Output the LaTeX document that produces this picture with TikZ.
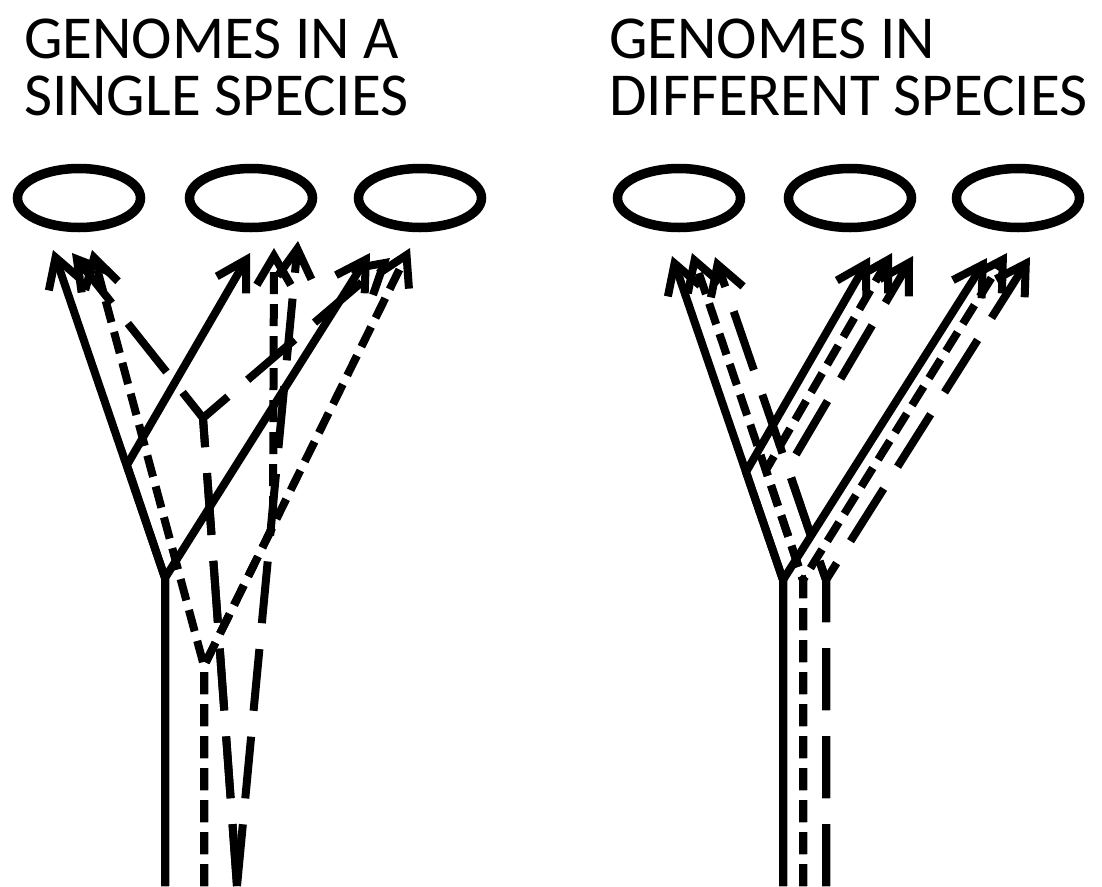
\documentclass[tikz,border=0pt]{standalone}
\usepackage{fontspec}
\setmainfont{Carlito}
\usetikzlibrary{arrows.meta,shapes.geometric}

\begin{document}
\begin{tikzpicture}[x=1pt, y=-1pt,
  genome/.style={draw, ellipse, line width=9.5pt, minimum width=123pt, minimum height=59pt, inner sep=0pt},
  gene/.style={line width=8pt, -{Straight Barb[length=29pt, width=34pt]}},
  dotline/.style={dash pattern=on 22pt off 10pt},
  dshline/.style={dash pattern=on 62pt off 26pt},
  heading/.style={anchor=north west, align=left, inner sep=0pt, font=\fontsize{61}{57}\selectfont}]
  \useasboundingbox (0,0) rectangle (1102,886);
  \node[heading] (inTitle) at (24,19) {GENOMES IN A\\SINGLE SPECIES};
  \node[heading] (btwTitle) at (609,19) {GENOMES IN\\DIFFERENT SPECIES};
  \foreach \n/\x in {inA/79, inB/251, inC/420, btwA/679, btwB/850, btwC/1018}
    \node[genome] (\n) at (\x, 198) {};
  \foreach \n/\x/\y in {inSol-0/165/886, inSol-1/165/578, inSol-2/127/465, inSol-A/53/250, inSol-B/250/253, inSol-C/370/253,
      inDot-0/204/886, inDot-1/204/666, inDot-2/273/526, inDot-A/92/250, inDot-B/274/248, inDot-C/410/248,
      inDsh-0/237/886, inDsh-1/203/418, inDsh-A/72/253, inDsh-B/298/241, inDsh-C/390/258,
      btwSol-0/783/886, btwSol-1/783/580, btwSol-2/746/472, btwSol-A/672/256, btwSol-B/870/257, btwSol-C/987/258,
      btwDot-0/803/886, btwDot-1/803/580, btwDot-2/766/470, btwDot-A/692/253, btwDot-B/892/253, btwDot-C/1007/253,
      btwDsh-0/826/886, btwDsh-1/826/580, btwDsh-2/788/468, btwDsh-A/715/257, btwDsh-B/913/256, btwDsh-C/1030/257}
    \coordinate (\n) at (\x, \y);
  \foreach \p/\st in {inSol/solid, inDot/dotline, btwSol/solid, btwDot/dotline, btwDsh/dshline} {
    \draw[gene, \st] (\p-0) -- (\p-1) -- (\p-A);
    \draw[gene, \st] (\p-0) -- (\p-1) -- (\p-C);
    \draw[gene, \st] (\p-0) -- (\p-1) -- (\p-2) -- (\p-B);
  }
  \draw[gene, dshline] (inDsh-0) -- (inDsh-B);
  \draw[gene, dshline] (inDsh-0) -- (inDsh-1) -- (inDsh-A);
  \draw[gene, dshline] (inDsh-0) -- (inDsh-1) -- (inDsh-C);
\end{tikzpicture}
\end{document}
